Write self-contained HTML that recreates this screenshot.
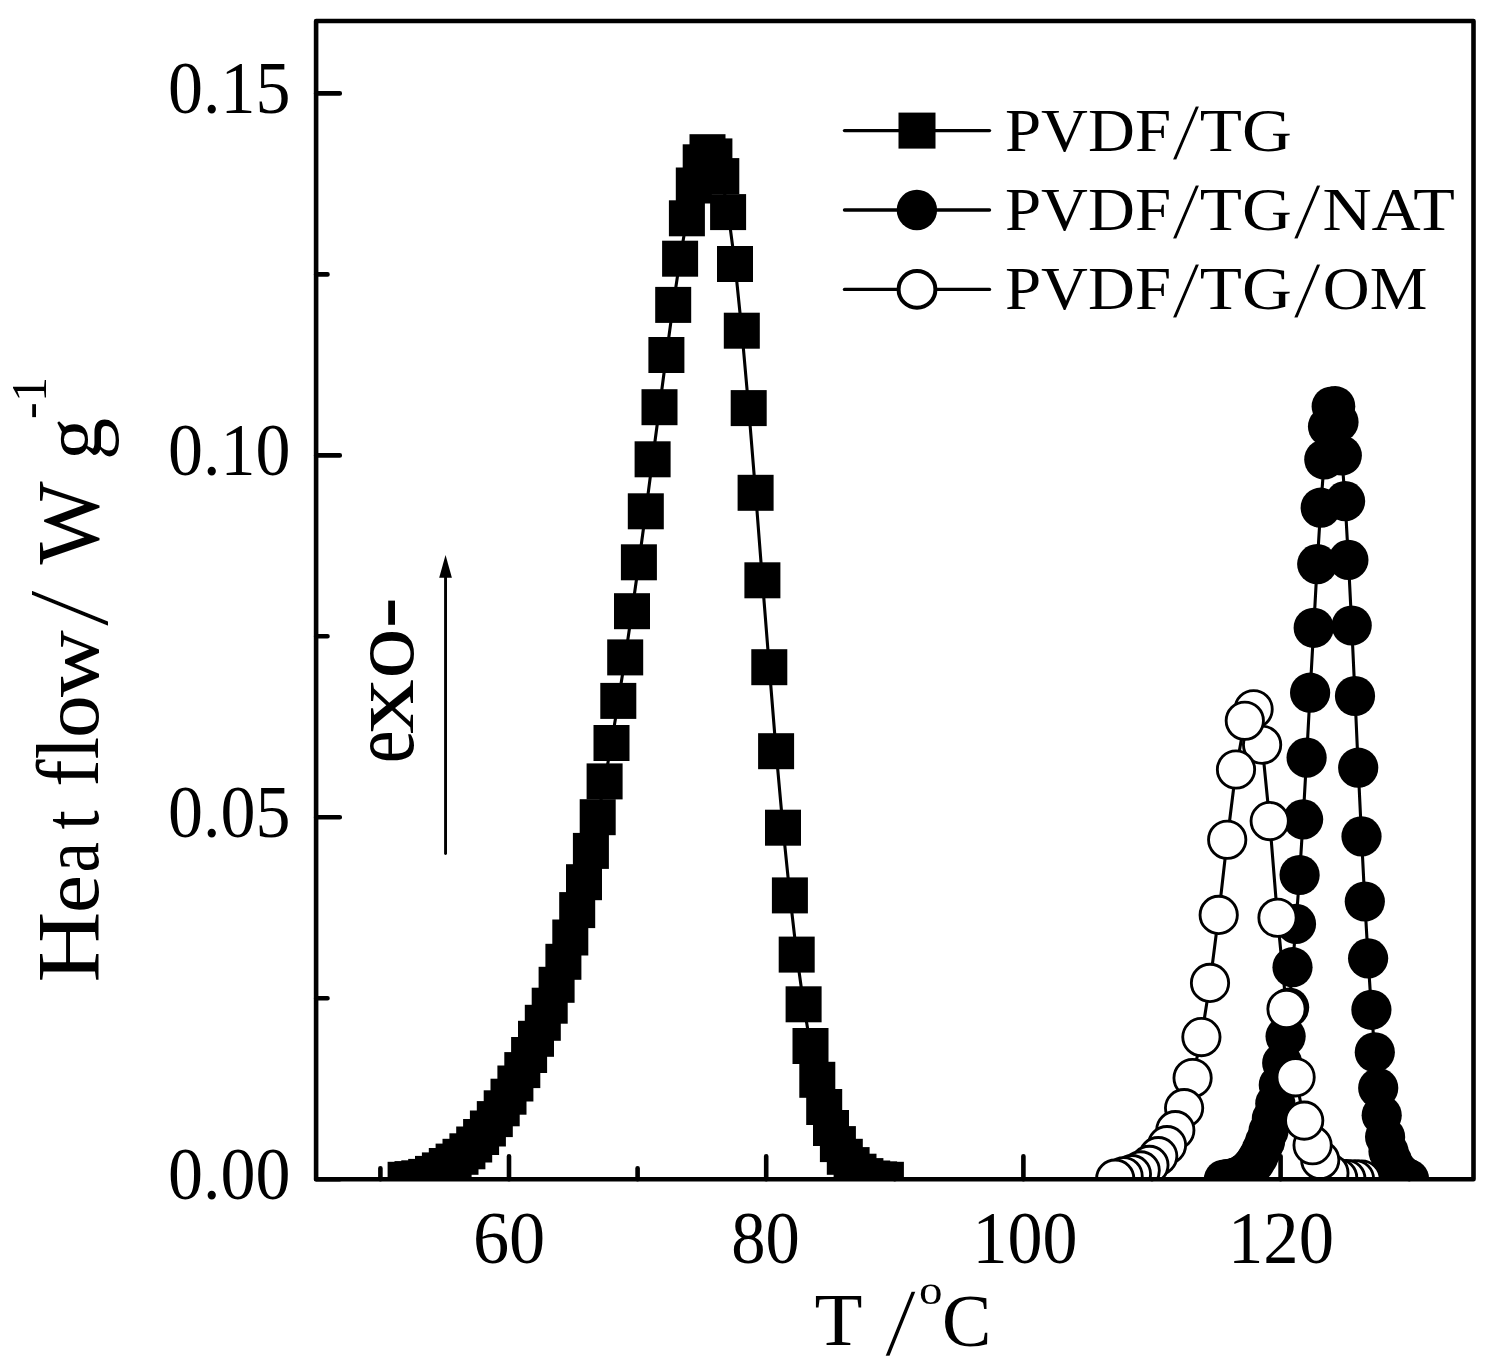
<!DOCTYPE html>
<html><head><meta charset="utf-8">
<style>
html,body{margin:0;padding:0;background:#fff;}
svg{display:block}
text{font-family:"Liberation Serif",serif;fill:#000}
</style></head><body>
<svg width="1499" height="1368" viewBox="0 0 1499 1368">
<rect width="1499" height="1368" fill="#fff"/>
<defs><clipPath id="plot"><rect x="316.1" y="21.0" width="1157.4" height="1158.3"/></clipPath></defs>
<path d="M316.1 1179.3h23.7 M316.1 817.3h23.7 M316.1 455.4h23.7 M316.1 93.4h23.7 M316.1 998.3h11.4 M316.1 636.3h11.4 M316.1 274.4h11.4 M509.0 1179.3v-23 M766.2 1179.3v-23 M1023.4 1179.3v-23 M1280.6 1179.3v-23 M380.4 1179.3v-11 M637.6 1179.3v-11 M894.8 1179.3v-11 M1152.0 1179.3v-11 M1409.2 1179.3v-11" stroke="#000" stroke-width="4.6" stroke-linecap="round" fill="none"/>
<g clip-path="url(#plot)">
<polyline points="405.6,1179.8 412.5,1179.1 419.3,1178.3 426.2,1176.9 433.0,1173.9 439.9,1170.4 446.8,1166.0 453.6,1161.6 460.5,1156.8 467.4,1151.3 474.2,1144.5 481.1,1137.0 487.9,1128.5 494.8,1119.1 501.7,1108.3 508.5,1096.7 515.4,1083.5 522.3,1070.1 529.1,1055.0 536.0,1038.8 542.8,1022.8 549.7,1005.7 556.6,984.8 563.4,961.8 570.3,937.5 577.2,910.1 584.0,882.2 590.9,850.9 597.7,817.2 604.6,781.4 611.5,743.0 618.3,700.9 625.2,657.4 632.0,611.2 638.9,562.3 645.8,511.3 652.6,459.3 659.5,407.2 666.4,355.0 673.2,304.9 680.1,258.7 686.9,218.3 693.8,185.5 700.7,162.3 707.5,152.2 714.4,156.4 721.3,176.1 728.1,212.1 735.0,264.0 741.8,330.7 748.7,408.1 755.6,492.8 762.4,580.3 769.3,667.2 776.1,751.2 783.0,827.7 789.9,895.4 796.7,954.6 803.6,1004.3 810.5,1046.0 817.3,1079.8 824.2,1107.0 831.0,1128.0 837.9,1144.1 844.8,1156.8 851.6,1165.1 858.5,1171.7 865.4,1176.1 872.2,1178.5 879.1,1179.4 885.9,1179.8" fill="none" stroke="#000" stroke-width="3.1"/>
<rect x="387.6" y="1161.8" width="36" height="36" fill="#000"/>
<rect x="394.5" y="1161.1" width="36" height="36" fill="#000"/>
<rect x="401.3" y="1160.3" width="36" height="36" fill="#000"/>
<rect x="408.2" y="1158.9" width="36" height="36" fill="#000"/>
<rect x="415.0" y="1155.9" width="36" height="36" fill="#000"/>
<rect x="421.9" y="1152.4" width="36" height="36" fill="#000"/>
<rect x="428.8" y="1148.0" width="36" height="36" fill="#000"/>
<rect x="435.6" y="1143.6" width="36" height="36" fill="#000"/>
<rect x="442.5" y="1138.8" width="36" height="36" fill="#000"/>
<rect x="449.4" y="1133.3" width="36" height="36" fill="#000"/>
<rect x="456.2" y="1126.5" width="36" height="36" fill="#000"/>
<rect x="463.1" y="1119.0" width="36" height="36" fill="#000"/>
<rect x="469.9" y="1110.5" width="36" height="36" fill="#000"/>
<rect x="476.8" y="1101.1" width="36" height="36" fill="#000"/>
<rect x="483.7" y="1090.3" width="36" height="36" fill="#000"/>
<rect x="490.5" y="1078.7" width="36" height="36" fill="#000"/>
<rect x="497.4" y="1065.5" width="36" height="36" fill="#000"/>
<rect x="504.3" y="1052.1" width="36" height="36" fill="#000"/>
<rect x="511.1" y="1037.0" width="36" height="36" fill="#000"/>
<rect x="518.0" y="1020.8" width="36" height="36" fill="#000"/>
<rect x="524.8" y="1004.8" width="36" height="36" fill="#000"/>
<rect x="531.7" y="987.7" width="36" height="36" fill="#000"/>
<rect x="538.6" y="966.8" width="36" height="36" fill="#000"/>
<rect x="545.4" y="943.8" width="36" height="36" fill="#000"/>
<rect x="552.3" y="919.5" width="36" height="36" fill="#000"/>
<rect x="559.2" y="892.1" width="36" height="36" fill="#000"/>
<rect x="566.0" y="864.2" width="36" height="36" fill="#000"/>
<rect x="572.9" y="832.9" width="36" height="36" fill="#000"/>
<rect x="579.7" y="799.2" width="36" height="36" fill="#000"/>
<rect x="586.6" y="763.4" width="36" height="36" fill="#000"/>
<rect x="593.5" y="725.0" width="36" height="36" fill="#000"/>
<rect x="600.3" y="682.9" width="36" height="36" fill="#000"/>
<rect x="607.2" y="639.4" width="36" height="36" fill="#000"/>
<rect x="614.0" y="593.2" width="36" height="36" fill="#000"/>
<rect x="620.9" y="544.3" width="36" height="36" fill="#000"/>
<rect x="627.8" y="493.3" width="36" height="36" fill="#000"/>
<rect x="634.6" y="441.3" width="36" height="36" fill="#000"/>
<rect x="641.5" y="389.2" width="36" height="36" fill="#000"/>
<rect x="648.4" y="337.0" width="36" height="36" fill="#000"/>
<rect x="655.2" y="286.9" width="36" height="36" fill="#000"/>
<rect x="662.1" y="240.7" width="36" height="36" fill="#000"/>
<rect x="668.9" y="200.3" width="36" height="36" fill="#000"/>
<rect x="675.8" y="167.5" width="36" height="36" fill="#000"/>
<rect x="682.7" y="144.3" width="36" height="36" fill="#000"/>
<rect x="689.5" y="134.2" width="36" height="36" fill="#000"/>
<rect x="696.4" y="138.4" width="36" height="36" fill="#000"/>
<rect x="703.3" y="158.1" width="36" height="36" fill="#000"/>
<rect x="710.1" y="194.1" width="36" height="36" fill="#000"/>
<rect x="717.0" y="246.0" width="36" height="36" fill="#000"/>
<rect x="723.8" y="312.7" width="36" height="36" fill="#000"/>
<rect x="730.7" y="390.1" width="36" height="36" fill="#000"/>
<rect x="737.6" y="474.8" width="36" height="36" fill="#000"/>
<rect x="744.4" y="562.3" width="36" height="36" fill="#000"/>
<rect x="751.3" y="649.2" width="36" height="36" fill="#000"/>
<rect x="758.1" y="733.2" width="36" height="36" fill="#000"/>
<rect x="765.0" y="809.7" width="36" height="36" fill="#000"/>
<rect x="771.9" y="877.4" width="36" height="36" fill="#000"/>
<rect x="778.7" y="936.6" width="36" height="36" fill="#000"/>
<rect x="785.6" y="986.3" width="36" height="36" fill="#000"/>
<rect x="792.5" y="1028.0" width="36" height="36" fill="#000"/>
<rect x="799.3" y="1061.8" width="36" height="36" fill="#000"/>
<rect x="806.2" y="1089.0" width="36" height="36" fill="#000"/>
<rect x="813.0" y="1110.0" width="36" height="36" fill="#000"/>
<rect x="819.9" y="1126.1" width="36" height="36" fill="#000"/>
<rect x="826.8" y="1138.8" width="36" height="36" fill="#000"/>
<rect x="833.6" y="1147.1" width="36" height="36" fill="#000"/>
<rect x="840.5" y="1153.7" width="36" height="36" fill="#000"/>
<rect x="847.4" y="1158.1" width="36" height="36" fill="#000"/>
<rect x="854.2" y="1160.5" width="36" height="36" fill="#000"/>
<rect x="861.1" y="1161.4" width="36" height="36" fill="#000"/>
<rect x="867.9" y="1161.8" width="36" height="36" fill="#000"/>
<polyline points="1223.9,1179.5 1227.3,1179.1 1230.8,1178.5 1234.2,1177.8 1237.6,1176.7 1241.0,1175.2 1244.5,1173.2 1247.9,1170.5 1251.3,1167.0 1254.8,1162.5 1258.2,1157.0 1261.6,1150.0 1265.1,1141.5 1268.5,1131.0 1271.9,1118.5 1275.3,1103.5 1278.8,1084.9 1282.2,1063.0 1285.6,1036.5 1289.1,1007.5 1292.5,967.2 1296.0,923.9 1299.6,875.0 1303.1,819.4 1306.6,757.6 1310.1,692.7 1313.7,627.8 1317.2,564.1 1320.7,507.7 1324.3,459.5 1328.0,426.6 1331.7,406.5 1335.2,406.2 1338.5,422.0 1341.8,455.5 1345.1,501.1 1348.4,559.9 1351.7,625.5 1355.0,696.0 1358.2,767.7 1361.5,836.4 1364.8,901.5 1368.1,958.4 1371.4,1009.8 1374.8,1052.3 1378.2,1088.0 1381.7,1115.3 1385.1,1137.0 1388.5,1151.5 1392.0,1161.0 1395.4,1168.0 1398.8,1172.5 1402.3,1175.5 1405.7,1177.5 1409.1,1179.3" fill="none" stroke="#000" stroke-width="3.1"/>
<circle cx="1223.9" cy="1179.5" r="20.1" fill="#000"/>
<circle cx="1227.3" cy="1179.1" r="20.1" fill="#000"/>
<circle cx="1230.8" cy="1178.5" r="20.1" fill="#000"/>
<circle cx="1234.2" cy="1177.8" r="20.1" fill="#000"/>
<circle cx="1237.6" cy="1176.7" r="20.1" fill="#000"/>
<circle cx="1241.0" cy="1175.2" r="20.1" fill="#000"/>
<circle cx="1244.5" cy="1173.2" r="20.1" fill="#000"/>
<circle cx="1247.9" cy="1170.5" r="20.1" fill="#000"/>
<circle cx="1251.3" cy="1167.0" r="20.1" fill="#000"/>
<circle cx="1254.8" cy="1162.5" r="20.1" fill="#000"/>
<circle cx="1258.2" cy="1157.0" r="20.1" fill="#000"/>
<circle cx="1261.6" cy="1150.0" r="20.1" fill="#000"/>
<circle cx="1265.1" cy="1141.5" r="20.1" fill="#000"/>
<circle cx="1268.5" cy="1131.0" r="20.1" fill="#000"/>
<circle cx="1271.9" cy="1118.5" r="20.1" fill="#000"/>
<circle cx="1275.3" cy="1103.5" r="20.1" fill="#000"/>
<circle cx="1278.8" cy="1084.9" r="20.1" fill="#000"/>
<circle cx="1282.2" cy="1063.0" r="20.1" fill="#000"/>
<circle cx="1285.6" cy="1036.5" r="20.1" fill="#000"/>
<circle cx="1289.1" cy="1007.5" r="20.1" fill="#000"/>
<circle cx="1292.5" cy="967.2" r="20.1" fill="#000"/>
<circle cx="1296.0" cy="923.9" r="20.1" fill="#000"/>
<circle cx="1299.6" cy="875.0" r="20.1" fill="#000"/>
<circle cx="1303.1" cy="819.4" r="20.1" fill="#000"/>
<circle cx="1306.6" cy="757.6" r="20.1" fill="#000"/>
<circle cx="1310.1" cy="692.7" r="20.1" fill="#000"/>
<circle cx="1313.7" cy="627.8" r="20.1" fill="#000"/>
<circle cx="1317.2" cy="564.1" r="20.1" fill="#000"/>
<circle cx="1320.7" cy="507.7" r="20.1" fill="#000"/>
<circle cx="1324.3" cy="459.5" r="20.1" fill="#000"/>
<circle cx="1328.0" cy="426.6" r="20.1" fill="#000"/>
<circle cx="1331.7" cy="406.5" r="20.1" fill="#000"/>
<circle cx="1335.2" cy="406.2" r="20.1" fill="#000"/>
<circle cx="1338.5" cy="422.0" r="20.1" fill="#000"/>
<circle cx="1341.8" cy="455.5" r="20.1" fill="#000"/>
<circle cx="1345.1" cy="501.1" r="20.1" fill="#000"/>
<circle cx="1348.4" cy="559.9" r="20.1" fill="#000"/>
<circle cx="1351.7" cy="625.5" r="20.1" fill="#000"/>
<circle cx="1355.0" cy="696.0" r="20.1" fill="#000"/>
<circle cx="1358.2" cy="767.7" r="20.1" fill="#000"/>
<circle cx="1361.5" cy="836.4" r="20.1" fill="#000"/>
<circle cx="1364.8" cy="901.5" r="20.1" fill="#000"/>
<circle cx="1368.1" cy="958.4" r="20.1" fill="#000"/>
<circle cx="1371.4" cy="1009.8" r="20.1" fill="#000"/>
<circle cx="1374.8" cy="1052.3" r="20.1" fill="#000"/>
<circle cx="1378.2" cy="1088.0" r="20.1" fill="#000"/>
<circle cx="1381.7" cy="1115.3" r="20.1" fill="#000"/>
<circle cx="1385.1" cy="1137.0" r="20.1" fill="#000"/>
<circle cx="1388.5" cy="1151.5" r="20.1" fill="#000"/>
<circle cx="1392.0" cy="1161.0" r="20.1" fill="#000"/>
<circle cx="1395.4" cy="1168.0" r="20.1" fill="#000"/>
<circle cx="1398.8" cy="1172.5" r="20.1" fill="#000"/>
<circle cx="1402.3" cy="1175.5" r="20.1" fill="#000"/>
<circle cx="1405.7" cy="1177.5" r="20.1" fill="#000"/>
<circle cx="1409.1" cy="1179.3" r="20.1" fill="#000"/>
<polyline points="1115.2,1178.7 1123.6,1176.3 1131.9,1174.1 1140.7,1170.4 1149.4,1164.9 1158.2,1156.1 1167.0,1145.1 1175.3,1130.2 1184.1,1108.1 1192.6,1078.0 1201.4,1037.1 1210.0,982.9 1218.7,914.9 1227.2,839.8 1236.0,769.5 1244.8,720.7 1253.6,709.3 1262.1,744.8 1269.7,821.1 1277.5,917.7 1286.5,1009.0 1295.6,1077.3 1304.2,1120.6 1312.6,1145.2 1320.2,1160.0 1329.4,1173.0 1338.2,1178.0 1346.4,1179.0 1355.0,1179.3 1361.6,1179.5" fill="none" stroke="#000" stroke-width="3.1"/>
<circle cx="1361.6" cy="1179.5" r="18.65" fill="#fff" stroke="#000" stroke-width="2.85"/>
<circle cx="1355.0" cy="1179.3" r="18.65" fill="#fff" stroke="#000" stroke-width="2.85"/>
<circle cx="1346.4" cy="1179.0" r="18.65" fill="#fff" stroke="#000" stroke-width="2.85"/>
<circle cx="1338.2" cy="1178.0" r="18.65" fill="#fff" stroke="#000" stroke-width="2.85"/>
<circle cx="1329.4" cy="1173.0" r="18.65" fill="#fff" stroke="#000" stroke-width="2.85"/>
<circle cx="1320.2" cy="1160.0" r="18.65" fill="#fff" stroke="#000" stroke-width="2.85"/>
<circle cx="1312.6" cy="1145.2" r="18.65" fill="#fff" stroke="#000" stroke-width="2.85"/>
<circle cx="1304.2" cy="1120.6" r="18.65" fill="#fff" stroke="#000" stroke-width="2.85"/>
<circle cx="1295.6" cy="1077.3" r="18.65" fill="#fff" stroke="#000" stroke-width="2.85"/>
<circle cx="1286.5" cy="1009.0" r="18.65" fill="#fff" stroke="#000" stroke-width="2.85"/>
<circle cx="1277.5" cy="917.7" r="18.65" fill="#fff" stroke="#000" stroke-width="2.85"/>
<circle cx="1269.7" cy="821.1" r="18.65" fill="#fff" stroke="#000" stroke-width="2.85"/>
<circle cx="1262.1" cy="744.8" r="18.65" fill="#fff" stroke="#000" stroke-width="2.85"/>
<circle cx="1253.6" cy="709.3" r="18.65" fill="#fff" stroke="#000" stroke-width="2.85"/>
<circle cx="1244.8" cy="720.7" r="18.65" fill="#fff" stroke="#000" stroke-width="2.85"/>
<circle cx="1236.0" cy="769.5" r="18.65" fill="#fff" stroke="#000" stroke-width="2.85"/>
<circle cx="1227.2" cy="839.8" r="18.65" fill="#fff" stroke="#000" stroke-width="2.85"/>
<circle cx="1218.7" cy="914.9" r="18.65" fill="#fff" stroke="#000" stroke-width="2.85"/>
<circle cx="1210.0" cy="982.9" r="18.65" fill="#fff" stroke="#000" stroke-width="2.85"/>
<circle cx="1201.4" cy="1037.1" r="18.65" fill="#fff" stroke="#000" stroke-width="2.85"/>
<circle cx="1192.6" cy="1078.0" r="18.65" fill="#fff" stroke="#000" stroke-width="2.85"/>
<circle cx="1184.1" cy="1108.1" r="18.65" fill="#fff" stroke="#000" stroke-width="2.85"/>
<circle cx="1175.3" cy="1130.2" r="18.65" fill="#fff" stroke="#000" stroke-width="2.85"/>
<circle cx="1167.0" cy="1145.1" r="18.65" fill="#fff" stroke="#000" stroke-width="2.85"/>
<circle cx="1158.2" cy="1156.1" r="18.65" fill="#fff" stroke="#000" stroke-width="2.85"/>
<circle cx="1149.4" cy="1164.9" r="18.65" fill="#fff" stroke="#000" stroke-width="2.85"/>
<circle cx="1140.7" cy="1170.4" r="18.65" fill="#fff" stroke="#000" stroke-width="2.85"/>
<circle cx="1131.9" cy="1174.1" r="18.65" fill="#fff" stroke="#000" stroke-width="2.85"/>
<circle cx="1123.6" cy="1176.3" r="18.65" fill="#fff" stroke="#000" stroke-width="2.85"/>
<circle cx="1115.2" cy="1178.7" r="18.65" fill="#fff" stroke="#000" stroke-width="2.85"/>
</g>
<rect x="316.1" y="21.0" width="1157.4" height="1158.3" fill="none" stroke="#000" stroke-width="4.6" stroke-linejoin="round"/>
<text x="290.6" y="1198.7" font-size="74.5" text-anchor="end" textLength="122.5" lengthAdjust="spacingAndGlyphs">0.00</text>
<text x="290.6" y="836.7" font-size="74.5" text-anchor="end" textLength="122.5" lengthAdjust="spacingAndGlyphs">0.05</text>
<text x="290.6" y="474.8" font-size="74.5" text-anchor="end" textLength="122.5" lengthAdjust="spacingAndGlyphs">0.10</text>
<text x="290.6" y="112.8" font-size="74.5" text-anchor="end" textLength="122.5" lengthAdjust="spacingAndGlyphs">0.15</text>
<text x="509.1" y="1263.0" font-size="74.5" text-anchor="middle" textLength="72.4" lengthAdjust="spacingAndGlyphs">60</text>
<text x="765.5" y="1263.0" font-size="74.5" text-anchor="middle" textLength="68.5" lengthAdjust="spacingAndGlyphs">80</text>
<text x="1024.9" y="1263.0" font-size="74.5" text-anchor="middle" textLength="105" lengthAdjust="spacingAndGlyphs">100</text>
<text x="1281.0" y="1263.0" font-size="74.5" text-anchor="middle" textLength="106" lengthAdjust="spacingAndGlyphs">120</text>
<text><tspan x="814.5" y="1345.3" font-size="74" textLength="48" lengthAdjust="spacingAndGlyphs">T</tspan><tspan x="865" y="1345.3" font-size="74"> </tspan><tspan x="884.5" y="1354.6" font-size="98" textLength="32" lengthAdjust="spacingAndGlyphs" stroke="#fff" stroke-width="1.4">/</tspan><tspan x="919" y="1304.3" font-size="40" textLength="23.5" lengthAdjust="spacingAndGlyphs">o</tspan><tspan x="942" y="1345.5" font-size="74">C</tspan></text>
<g transform="translate(98.2,982.5) rotate(-90)">
<text><tspan x="-0.03" y="0.00" font-size="88" textLength="70.91" lengthAdjust="spacingAndGlyphs">H</tspan><tspan x="69.45" y="0.00" font-size="80" textLength="38.01" lengthAdjust="spacingAndGlyphs">e</tspan><tspan x="110.10" y="0.00" font-size="80" textLength="30.34" lengthAdjust="spacingAndGlyphs">a</tspan><tspan x="152.93" y="0.00" font-size="80" textLength="19.18" lengthAdjust="spacingAndGlyphs">t</tspan><tspan x="176" y="0" font-size="80"> </tspan><tspan x="195.78" y="0.00" font-size="88" textLength="49.95" lengthAdjust="spacingAndGlyphs">fl</tspan><tspan x="244.45" y="0.00" font-size="80" textLength="42.71" lengthAdjust="spacingAndGlyphs">o</tspan><tspan x="285.41" y="0.00" font-size="80" textLength="66.90" lengthAdjust="spacingAndGlyphs">w</tspan><tspan x="355" y="9.5" font-size="116" textLength="38.5" lengthAdjust="spacingAndGlyphs" stroke="#fff" stroke-width="2">/</tspan><tspan x="396" y="0" font-size="80"> </tspan><tspan x="418" y="0" font-size="88">W</tspan><tspan x="502" y="0" font-size="80"> </tspan><tspan x="522.5" y="2.5" font-size="84">g</tspan><tspan x="563.5" y="-52.4" font-size="50">-</tspan><tspan x="580.5" y="-52.4" font-size="50">1</tspan></text>
</g>
<g transform="translate(412.9,763) rotate(-90)">
<text><tspan x="-0.3" y="0" font-size="92" textLength="32.8" lengthAdjust="spacingAndGlyphs">e</tspan><tspan x="29" y="0" font-size="92" textLength="55.2" lengthAdjust="spacingAndGlyphs">x</tspan><tspan x="84" y="0" font-size="92" textLength="51" lengthAdjust="spacingAndGlyphs">o</tspan><tspan x="134.8" y="0" font-size="92" textLength="31" lengthAdjust="spacingAndGlyphs">-</tspan></text>
</g>
<path d="M445.55 853.6V575" stroke="#000" stroke-width="2.9" stroke-linecap="round" fill="none"/>
<path d="M445.55 555L451.9 577.7H439.2Z" fill="#000"/>
<path d="M844.5 130.6H989.5" stroke="#000" stroke-width="3.4" stroke-linecap="round"/>
<rect x="898.5" y="112.6" width="37" height="36" fill="#000"/>
<text><tspan x="1005" y="150.9" font-size="62" textLength="166" lengthAdjust="spacingAndGlyphs">PVDF</tspan><tspan x="1172" y="158.5" font-size="81" textLength="28" lengthAdjust="spacingAndGlyphs" stroke="#fff" stroke-width="1.2">/</tspan><tspan x="1199.8" y="150.9" font-size="62" textLength="92" lengthAdjust="spacingAndGlyphs">TG</tspan></text>
<path d="M844.5 210.0H989.5" stroke="#000" stroke-width="3.4" stroke-linecap="round"/>
<circle cx="916.9" cy="210.0" r="20.2" fill="#000"/>
<text><tspan x="1005" y="230.1" font-size="62" textLength="166" lengthAdjust="spacingAndGlyphs">PVDF</tspan><tspan x="1172" y="237.7" font-size="81" textLength="28" lengthAdjust="spacingAndGlyphs" stroke="#fff" stroke-width="1.2">/</tspan><tspan x="1199.8" y="230.1" font-size="62" textLength="92" lengthAdjust="spacingAndGlyphs">TG</tspan><tspan x="1293.3" y="237.7" font-size="81" textLength="28" lengthAdjust="spacingAndGlyphs" stroke="#fff" stroke-width="1.2">/</tspan><tspan x="1322.4" y="230.1" font-size="62" textLength="132.5" lengthAdjust="spacingAndGlyphs">NAT</tspan></text>
<path d="M844.5 289.4H989.5" stroke="#000" stroke-width="3.4" stroke-linecap="round"/>
<circle cx="917" cy="289.4" r="18.4" fill="#fff" stroke="#000" stroke-width="4.0"/>
<text><tspan x="1005" y="309.3" font-size="62" textLength="166" lengthAdjust="spacingAndGlyphs">PVDF</tspan><tspan x="1172" y="316.9" font-size="81" textLength="28" lengthAdjust="spacingAndGlyphs" stroke="#fff" stroke-width="1.2">/</tspan><tspan x="1199.8" y="309.3" font-size="62" textLength="92" lengthAdjust="spacingAndGlyphs">TG</tspan><tspan x="1293.3" y="316.9" font-size="81" textLength="28" lengthAdjust="spacingAndGlyphs" stroke="#fff" stroke-width="1.2">/</tspan><tspan x="1322.8" y="309.3" font-size="62" textLength="104.5" lengthAdjust="spacingAndGlyphs">OM</tspan></text>
</svg></body></html>
